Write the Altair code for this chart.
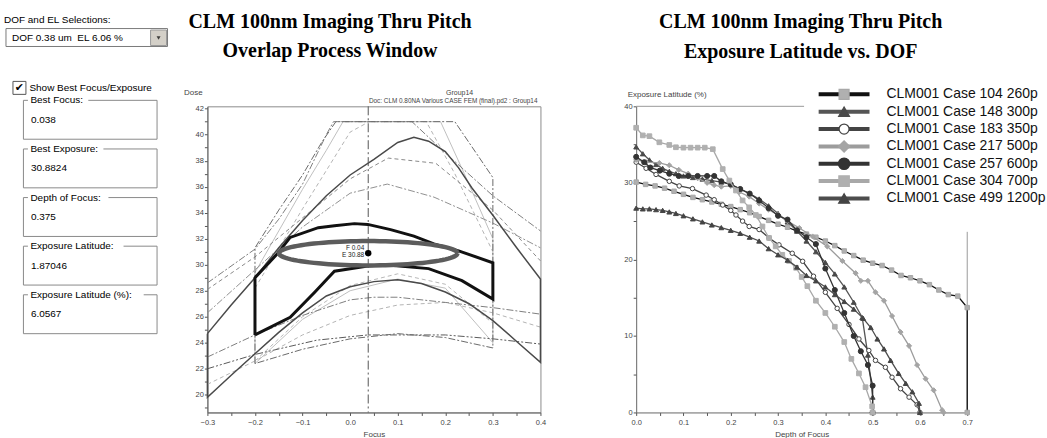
import altair as alt
import pandas as pd

# ======================= DATA =======================
# ---- left control panel ----
SEL_TITLE = "DOF and EL Selections:"
SEL_TEXT = "DOF 0.38 um\u00a0\u00a0EL 6.06 %"
CHECK_TEXT = "Show Best Focus/Exposure"
BOX_LABELS = ["Best Focus:", "Best Exposure:", "Depth of Focus:",
              "Exposure Latitude:", "Exposure Latitude (%):"]
BOX_VALUES = ["0.038", "30.8824", "0.375", "1.87046", "6.0567"]

# ---- middle chart: overlap process window ----
MID_TITLE = ["CLM 100nm Imaging Thru Pitch", "Overlap Process Window"]
MID_GROUP = "Group14"
MID_DOC = "Doc: CLM 0.80NA Various CASE FEM (final).pd2 : Group14"
BEST_FOCUS = 0.038
BEST_EXPOSURE = 30.8824
DEPTH_OF_FOCUS = 0.375
EXPOSURE_LATITUDE = 1.87046
POINT_LABELS = ["F 0.04", "E 30.88"]
FOCUS_TICKS = [-0.3, -0.25, -0.2, -0.15, -0.1, -0.05, 0.0, 0.05, 0.1,
               0.15, 0.2, 0.25, 0.3, 0.35, 0.4]
DOSE_TICKS = [19, 20, 21, 22, 23, 24, 25, 26, 27, 28, 29, 30, 31, 32, 33,
              34, 35, 36, 37, 38, 39, 40, 41, 42]

# closed dark contour (upper curve left->right, lower curve right->left)
DARK_FOCUS = [-0.3, -0.25, -0.2, -0.15, -0.1, -0.05, 0.0, 0.05, 0.1, 0.134, 0.165,
              0.2, 0.228, 0.256, 0.3, 0.35, 0.4,
              0.4, 0.35, 0.3, 0.25, 0.2, 0.15, 0.1, 0.05, 0.0, -0.05, -0.1,
              -0.15, -0.2, -0.25, -0.3, -0.3]
DARK_DOSE = [24.7, 26.9, 29.0, 31.3, 33.4, 35.3, 36.9, 38.1, 39.4, 39.8, 39.5,
             38.7, 37.45, 35.9, 33.8, 31.3, 28.9,
             22.5, 24.1, 25.7, 27.0, 27.9, 28.55, 28.85, 28.7, 28.3, 27.6, 26.3,
             24.8, 23.15, 21.5, 19.8, 24.7]

# overlap window polygon (thick black)
WIN_FOCUS = [-0.2, -0.2, -0.154, -0.126, -0.067, -0.033, 0.009, 0.037, 0.085, 0.134,
             0.176, 0.228, 0.3, 0.3, 0.235, 0.165, 0.085, 0.037, -0.033, -0.074,
             -0.126, -0.2]
WIN_DOSE = [24.6, 29.0, 30.8, 32.1, 32.85, 33.0, 33.16, 33.1, 32.7, 32.2,
            31.6, 31.07, 30.15, 27.36, 28.77, 29.7, 29.95, 29.9, 29.5, 27.9,
            25.95, 24.6]

# thin individual-feature curves
T1_FOCUS = [-0.2, -0.2, -0.15, -0.1, -0.06, -0.03, 0.22, 0.3, 0.3, 0.2, 0.1, 0.0, -0.1, -0.2]
T1_DOSE = [22.4, 31.3, 34.2, 36.9, 39.4, 41.0, 41.0, 36.7, 23.6, 24.4, 24.7, 24.3, 23.5, 22.4]
U1_FOCUS = [-0.3, -0.2, -0.1, 0.0, 0.08, 0.18, 0.3, 0.4]
U1_DOSE = [28.1, 30.6, 33.6, 36.6, 38.2, 37.8, 34.2, 30.3]
U2_FOCUS = [-0.3, -0.2, -0.1, 0.0, 0.078, 0.176, 0.3, 0.4]
U2_DOSE = [26.3, 29.6, 32.9, 35.5, 36.2, 35.2, 33.2, 31.3]
U3_FOCUS = [-0.3, -0.2, -0.15, -0.1, -0.05, -0.035, 0.13, 0.2, 0.3, 0.4]
U3_DOSE = [28.6, 31.2, 33.5, 36.2, 40.0, 41.0, 41.0, 38.6, 35.3, 32.6]
S1_FOCUS = [-0.2, -0.1, -0.05, -0.015, 0.19, 0.24, 0.3, 0.3, 0.2, 0.1, 0.0, -0.1, -0.2, -0.2]
S1_DOSE = [29.4, 35.8, 38.8, 41.0, 41.0, 37.0, 32.0, 24.0, 28.2, 28.9, 28.0, 25.8, 22.4, 29.4]
S2_FOCUS = [-0.2, -0.1, 0.0, 0.04, 0.16, 0.22, 0.3]
S2_DOSE = [28.2, 34.3, 40.2, 41.0, 41.0, 37.0, 31.0]
S2L_FOCUS = [-0.2, -0.1, 0.0, 0.1, 0.2, 0.3]
S2L_DOSE = [22.6, 26.0, 28.4, 29.3, 28.5, 25.5]
L1_FOCUS = [-0.3, -0.2, -0.07, 0.037, 0.2, 0.3, 0.4]
L1_DOSE = [22.0, 23.1, 24.2, 24.6, 24.6, 24.3, 23.9]
L2_FOCUS = [-0.3, -0.2, -0.1, 0.0, 0.05, 0.1, 0.2, 0.3, 0.4]
L2_DOSE = [22.9, 24.6, 26.1, 27.3, 27.5, 27.5, 27.1, 26.7, 26.2]
L3_FOCUS = [-0.3, -0.2, -0.1, 0.0, 0.1, 0.2, 0.3, 0.4]
L3_DOSE = [20.8, 22.6, 24.6, 26.1, 26.9, 27.1, 26.3, 25.2]

# ---- right chart: exposure latitude vs DOF ----
RIGHT_TITLE = ["CLM 100nm Imaging Thru Pitch", "Exposure Latitude vs. DOF"]
SERIES_NAMES = ["CLM001 Case 104 260p", "CLM001 Case 148 300p", "CLM001 Case 183 350p",
                "CLM001 Case 217 500p", "CLM001 Case 257 600p", "CLM001 Case 304 700p",
                "CLM001 Case 499 1200p"]
DOF_TICKS = [0.0, 0.05, 0.1, 0.15, 0.2, 0.25, 0.3, 0.35, 0.4, 0.45, 0.5, 0.55, 0.6, 0.65, 0.7]
EL_TICKS = [0, 5, 10, 15, 20, 25, 30, 35, 40]

DOF_260 = [0.0, 0.02, 0.04, 0.06, 0.08, 0.10, 0.12, 0.14, 0.16, 0.18, 0.20, 0.22, 0.24,
           0.26, 0.28, 0.30, 0.32, 0.34, 0.36, 0.38, 0.40, 0.42, 0.44, 0.46, 0.48, 0.50,
           0.52, 0.54, 0.56, 0.58, 0.60, 0.62, 0.64, 0.66, 0.68, 0.70, 0.70]
EL_260 = [30.1, 29.8, 29.6, 29.3, 28.9, 28.5, 28.1, 27.8, 27.5, 27.2, 26.9, 26.5, 26.1,
          25.6, 25.1, 24.6, 24.2, 23.7, 23.3, 22.9, 22.4, 21.8, 21.1, 20.5, 19.9, 19.5,
          19.2, 18.6, 17.9, 17.6, 17.2, 16.7, 16.0, 15.4, 15.2, 13.7, 0.0]
DOF_300 = [0.0, 0.014, 0.028, 0.042, 0.056, 0.07, 0.084, 0.1, 0.12, 0.14, 0.16, 0.18, 0.2,
           0.22, 0.24, 0.26, 0.28, 0.30, 0.32, 0.34, 0.36, 0.38, 0.40, 0.42, 0.44, 0.46,
           0.478, 0.49, 0.5, 0.5]
EL_300 = [34.7, 33.8, 33.0, 32.4, 31.9, 31.5, 31.2, 30.9, 30.7, 30.5, 30.3, 30.1, 29.8,
          29.2, 28.6, 27.9, 27.0, 26.0, 24.9, 23.7, 22.4, 21.0, 19.6, 18.1, 16.4, 14.4,
          12.4, 7.5, 2.0, 0.0]
DOF_350 = [0.0, 0.021, 0.042, 0.07, 0.091, 0.119, 0.148, 0.165, 0.183, 0.2, 0.211, 0.225,
           0.239, 0.26, 0.281, 0.302, 0.33, 0.352, 0.375, 0.4, 0.425, 0.45, 0.471, 0.492,
           0.506, 0.527, 0.541, 0.559, 0.577, 0.594, 0.6]
EL_350 = [32.7, 31.9, 31.1, 30.2, 29.6, 29.25, 28.4, 27.8, 27.1, 26.4, 25.8, 25.0,
          24.3, 23.9, 22.8, 21.9, 20.8, 19.75, 17.8, 15.7, 13.6, 11.5, 9.6, 8.1,
          6.8, 5.9, 4.6, 3.1, 2.0, 1.0, 0.0]
DOF_500 = [0.0, 0.021, 0.049, 0.07, 0.09, 0.11, 0.13, 0.15, 0.165, 0.18, 0.2, 0.218, 0.239,
           0.26, 0.28, 0.3, 0.32, 0.345, 0.373, 0.404, 0.436, 0.464, 0.475, 0.49, 0.506,
           0.524, 0.541, 0.559, 0.577, 0.594, 0.612, 0.629, 0.647, 0.65]
EL_500 = [33.0, 32.7, 32.6, 32.3, 31.7, 31.2, 30.6, 30.0, 29.7, 29.5, 29.6, 28.8, 28.2,
          27.3, 26.5, 25.8, 25.0, 24.1, 23.0, 21.7, 19.8, 18.2, 17.2, 17.2, 15.7,
          14.6, 12.6, 10.5, 8.7, 6.2, 4.4, 2.9, 0.3, 0.0]
DOF_600 = [0.0, 0.017, 0.03, 0.05, 0.07, 0.09, 0.11, 0.13, 0.15, 0.165, 0.18, 0.2, 0.22,
           0.24, 0.26, 0.28, 0.3, 0.32, 0.34, 0.36, 0.38, 0.4, 0.42, 0.44, 0.46, 0.475,
           0.49, 0.5, 0.5]
EL_600 = [33.4, 32.7, 32.0, 31.6, 31.2, 30.9, 30.9, 30.9, 30.9, 30.9, 30.2, 29.8, 29.2,
          28.6, 27.7, 26.7, 25.7, 25.2, 23.8, 22.9, 22.0, 18.8, 16.0, 13.0, 10.0, 8.0,
          6.2, 3.5, 0.0]
DOF_700 = [0.0, 0.014, 0.028, 0.049, 0.07, 0.084, 0.1, 0.115, 0.13, 0.145, 0.162, 0.183,
           0.197, 0.211, 0.225, 0.239, 0.253, 0.267, 0.281, 0.295, 0.309, 0.323, 0.338,
           0.35, 0.362, 0.38, 0.4, 0.42, 0.44, 0.455, 0.471, 0.485, 0.499, 0.5]
EL_700 = [37.2, 36.2, 36.1, 35.3, 34.95, 34.65, 34.6, 34.6, 34.6, 34.6, 34.4, 31.8,
          30.3, 29.0, 27.7, 26.8, 25.8, 24.3, 22.8, 21.7, 20.6, 19.8, 18.9,
          17.7, 16.5, 14.6, 13.0, 11.2, 9.2, 7.0, 5.1, 3.3, 0.8, 0.0]
DOF_1200 = [0.0, 0.014, 0.028, 0.042, 0.056, 0.07, 0.084, 0.1, 0.12, 0.14, 0.16, 0.18, 0.2,
            0.22, 0.24, 0.26, 0.28, 0.30, 0.32, 0.34, 0.36, 0.38, 0.40, 0.42, 0.44, 0.46,
            0.48, 0.496, 0.51, 0.524, 0.538, 0.555, 0.57, 0.584, 0.598, 0.6]
EL_1200 = [26.7, 26.6, 26.6, 26.5, 26.4, 26.2, 26.0, 25.7, 25.3, 24.9, 24.5, 24.15, 23.8,
           23.4, 22.9, 22.4, 21.4, 20.6, 19.9, 19.0, 17.9, 17.2, 16.4, 15.4, 14.5, 13.5,
           12.3, 11.1, 9.6, 8.3, 6.8, 5.1, 3.8, 2.7, 1.2, 0.0]

# ======================= STYLE / LAYOUT =======================
FONT = "Liberation Sans"
SERIF = "Liberation Serif"
LEFT_W, MID_W, RIGHT_W, PLOT_H = 111, 334, 332, 307
ORIGIN_Y = 105
SPACING = 96

DASHDOT = [7, 2, 2, 2]
DASH = [4, 3]
DASHDOTDOT = [7, 2, 2, 2, 2, 2]


def one(**cols):
    return pd.DataFrame({k: [v] for k, v in cols.items()})


# ---------------- left panel ----------------
def ptext(s, x, y, size=10, align="left", font=FONT, color="#000"):
    return alt.Chart(one(t=s)).mark_text(
        align=align, baseline="middle", fontSize=size, font=font, color=color
    ).encode(x=alt.value(x), y=alt.value(y - ORIGIN_Y), text="t:N")


def prect(x1, y1, x2, y2, fill, stroke="transparent", sw=1):
    return alt.Chart(one(a=0)).mark_rect(fill=fill, stroke=stroke, strokeWidth=sw).encode(
        x=alt.value(x1), x2=alt.value(x2),
        y=alt.value(y1 - ORIGIN_Y), y2=alt.value(y2 - ORIGIN_Y))


left_layers = [
    prect(0, 0, 1047, 438, "white"),
    ptext(SEL_TITLE, 3, 18),
    prect(5, 27, 167, 45, "white", "#7a7a7a"),
    ptext(SEL_TEXT, 11, 36.5),
    prect(150, 28.5, 166, 44, "#d4d0c8", "#9a9a9a"),
    alt.Chart(one(a=0)).mark_point(shape="triangle-down", filled=True, color="#000", size=16).encode(
        x=alt.value(158), y=alt.value(36.5 - ORIGIN_Y)),
    prect(12, 80, 25, 93, "white", "#555"),
    ptext("\u2714", 18.5, 86.5, size=11, align="center", font="DejaVu Sans"),
    ptext(CHECK_TEXT, 28.5, 86.5),
]
for i, (lab, val) in enumerate(zip(BOX_LABELS, BOX_VALUES)):
    top = 99 + 48.75 * i
    left_layers.append(prect(22.5, top, 156.5, top + 39, "transparent", "#8a8a8a"))
    left_layers.append(prect(27, top - 5, 30 + len(lab) * 5.05 + 2, top + 5, "white"))
    left_layers.append(ptext(lab, 29.5, top))
    left_layers.append(ptext(val, 30, top + 19.5))

left = alt.layer(*left_layers).properties(width=LEFT_W, height=PLOT_H)

# ---------------- middle chart ----------------
X_MID = alt.Scale(domain=[-0.3, 0.4], nice=False, zero=False)
Y_MID = alt.Scale(domain=[18.64, 42.18], nice=False, zero=False)
AX_MID_X = alt.Axis(values=FOCUS_TICKS, grid=False, tickSize=3, tickColor="#555",
                    domainColor="#666", labelColor="#444", labelFont=FONT, labelFontSize=7.5,
                    labelPadding=3, labelFlush=False, labelOverlap=False,
                    labelExpr="abs(datum.value*10 - round(datum.value*10)) < 0.01 ? format(datum.value, '.1f') : ''",
                    title="Focus", titleFont=FONT, titleFontSize=8, titleFontWeight="normal",
                    titleColor="#444", titlePadding=5)
AX_MID_Y = alt.Axis(values=DOSE_TICKS, grid=False, tickSize=3, tickColor="#555",
                    domainColor="#666", labelColor="#444", labelFont=FONT, labelFontSize=7.5,
                    labelPadding=1, labelFlush=False, labelOverlap=False,
                    labelExpr="datum.value % 2 == 0 ? datum.label : ''",
                    title="Dose", titleFont=FONT, titleFontSize=8, titleFontWeight="normal",
                    titleColor="#444", titleAngle=0, titleAlign="left", titleBaseline="middle",
                    titleX=-24, titleY=-14)


def mx(field="focus"):
    return alt.X(f"{field}:Q", scale=X_MID, axis=AX_MID_X)


def my(field="dose"):
    return alt.Y(f"{field}:Q", scale=Y_MID, axis=AX_MID_Y)


def curve(fx, dy, color, width, dash=None):
    df = pd.DataFrame({"focus": fx, "dose": dy, "i": list(range(len(fx)))})
    kw = dict(color=color, strokeWidth=width, clip=False)
    if dash is not None:
        kw["strokeDash"] = dash
    return alt.Chart(df).mark_line(**kw).encode(x=mx(), y=my(), order="i:Q")


mid_layers = [
    curve(L3_FOCUS, L3_DOSE, "#b4b4b4", 1, DASH),
    curve(S2L_FOCUS, S2L_DOSE, "#b8b8b8", 1, DASH),
    curve(S1_FOCUS, S1_DOSE, "#c0c0c0", 1),
    curve(S2_FOCUS, S2_DOSE, "#b4b4b4", 1, DASH),
    curve(U2_FOCUS, U2_DOSE, "#919191", 1, DASHDOT),
    curve(U1_FOCUS, U1_DOSE, "#8a8a8a", 1, DASH),
    curve(U3_FOCUS, U3_DOSE, "#7e7e7e", 1, DASHDOT),
    curve(L2_FOCUS, L2_DOSE, "#7e7e7e", 1, DASHDOT),
    curve(L1_FOCUS, L1_DOSE, "#5a5a5a", 1, DASHDOTDOT),
    curve(T1_FOCUS, T1_DOSE, "#6a6a6a", 1, DASHDOT),
    curve(DARK_FOCUS, DARK_DOSE, "#4a4a4a", 1.5),
    alt.Chart(one(focus=BEST_FOCUS)).mark_rule(color="#555", strokeWidth=1, strokeDash=[9, 3, 2, 3]).encode(x=mx()),
    curve(WIN_FOCUS, WIN_DOSE, "#111111", 3),
    alt.Chart(alt.sequence(0, 97, as_="k")).transform_calculate(
        focus=f"{BEST_FOCUS} + {DEPTH_OF_FOCUS / 2} * cos(datum.k * PI / 48)",
        dose=f"{BEST_EXPOSURE} + {EXPOSURE_LATITUDE / 2} * sin(datum.k * PI / 48)",
    ).mark_line(color="#5c5c5c", strokeWidth=4.5).encode(x=mx(), y=my(), order="k:Q"),
    alt.Chart(one(focus=BEST_FOCUS, dose=BEST_EXPOSURE)).mark_point(
        filled=True, color="#000", size=42, opacity=1).encode(x=mx(), y=my()),
    alt.Chart(one(focus=BEST_FOCUS, dose=BEST_EXPOSURE, t=POINT_LABELS[0])).mark_text(
        align="right", baseline="middle", fontSize=6.5, font=FONT, color="#222", dx=-4, dy=-5.5
    ).encode(x=mx(), y=my(), text="t:N"),
    alt.Chart(one(focus=BEST_FOCUS, dose=BEST_EXPOSURE, t=POINT_LABELS[1])).mark_text(
        align="right", baseline="middle", fontSize=6.5, font=FONT, color="#222", dx=-4, dy=1.5
    ).encode(x=mx(), y=my(), text="t:N"),
    alt.Chart(one(t=MID_GROUP)).mark_text(align="center", baseline="middle", fontSize=7, font=FONT,
                                          color="#444").encode(x=alt.value(253), y=alt.value(-13), text="t:N"),
    alt.Chart(one(t=MID_DOC)).mark_text(align="right", baseline="middle", fontSize=6.4, font=FONT,
                                        color="#444").encode(x=alt.value(331), y=alt.value(-5.5), text="t:N"),
]

mid = alt.layer(*mid_layers).properties(
    width=MID_W, height=PLOT_H,
    view=alt.ViewBackground(stroke="#8c8c8c", strokeWidth=1),
    title=alt.TitleParams(MID_TITLE, font=SERIF, fontSize=20, fontWeight="bold", color="#000",
                          anchor="middle", frame="group", dx=-44, offset=27, lineHeight=30),
)

# ---------------- right chart ----------------
X_R = alt.Scale(domain=[0, 0.7], nice=False, zero=False)
Y_R = alt.Scale(domain=[0, 40], nice=False, zero=False)
AX_R_X = alt.Axis(values=DOF_TICKS, grid=False, tickSize=3, tickColor="#555",
                  domainColor="#666", labelColor="#444", labelFont=FONT, labelFontSize=7.5,
                  labelPadding=3, labelFlush=False, labelOverlap=False,
                  labelExpr="abs(datum.value*10 - round(datum.value*10)) < 0.01 ? format(datum.value, '.1f') : ''",
                  title="Depth of Focus", titleFont=FONT, titleFontSize=8, titleFontWeight="normal",
                  titleColor="#444", titlePadding=5)
AX_R_Y = alt.Axis(values=EL_TICKS, grid=False, tickSize=3, tickColor="#555",
                  domainColor="#666", labelColor="#444", labelFont=FONT, labelFontSize=7.5,
                  labelPadding=1, labelFlush=False, labelOverlap=False,
                  labelExpr="datum.value % 10 == 0 ? datum.label : ''",
                  title="Exposure Latitude (%)", titleFont=FONT, titleFontSize=8,
                  titleFontWeight="normal", titleColor="#444", titleAngle=0, titleAlign="left",
                  titleBaseline="middle", titleX=-9, titleY=-12)


def rx(field="dof"):
    return alt.X(f"{field}:Q", scale=X_R, axis=AX_R_X)


def ry(field="el"):
    return alt.Y(f"{field}:Q", scale=Y_R, axis=AX_R_Y)


SERIES = [
    (DOF_260, EL_260, "#111111", "square", "#b0b0b0", "#a8a8a8", 20),
    (DOF_300, EL_300, "#555555", "triangle-up", "#4a4a4a", "#4a4a4a", 24),
    (DOF_350, EL_350, "#444444", "circle", "white", "#444444", 20),
    (DOF_500, EL_500, "#9c9c9c", "diamond", "#a4a4a4", "#a4a4a4", 26),
    (DOF_600, EL_600, "#333333", "circle", "#333333", "#333333", 26),
    (DOF_700, EL_700, "#a8a8a8", "square", "#b0b0b0", "#b0b0b0", 22),
    (DOF_1200, EL_1200, "#4d4d4d", "triangle-up", "#444444", "#444444", 24),
]

right_layers = [
    alt.Chart(one(a=0)).mark_rule(color="#9a9a9a", strokeWidth=1).encode(
        x=alt.X(datum=0, scale=X_R, axis=AX_R_X),
        x2=alt.X2(datum=0.355), y=alt.Y(datum=40, scale=Y_R, axis=AX_R_Y)),
    alt.Chart(one(a=0)).mark_rule(color="#9a9a9a", strokeWidth=1).encode(
        x=alt.X(datum=0.7, scale=X_R, axis=AX_R_X),
        y=alt.Y(datum=0, scale=Y_R, axis=AX_R_Y), y2=alt.Y2(datum=23.6)),
]
for dof, el, lc, shape, fill, stroke, size in SERIES:
    df = pd.DataFrame({"dof": dof, "el": el, "i": list(range(len(dof)))})
    right_layers.append(alt.Chart(df).mark_line(color=lc, strokeWidth=1.3).encode(
        x=rx(), y=ry(), order="i:Q"))
    right_layers.append(alt.Chart(df).mark_point(
        shape=shape, filled=True, fill=fill, stroke=stroke, strokeWidth=1, size=size, opacity=1
    ).encode(x=rx(), y=ry()))

# legend (custom, drawn at the top right)
for i, (name, (dof, el, lc, shape, fill, stroke, size)) in enumerate(zip(SERIES_NAMES, SERIES)):
    ly = -12 + 17.4 * i
    right_layers.append(alt.Chart(one(a=0)).mark_rule(color=lc, strokeWidth=4).encode(
        x=alt.value(183), x2=alt.value(234), y=alt.value(ly)))
    right_layers.append(alt.Chart(one(a=0)).mark_point(
        shape=shape, filled=True, fill=fill, stroke=stroke, strokeWidth=1.2,
        size=size * 5, opacity=1).encode(x=alt.value(208.5), y=alt.value(ly)))
    right_layers.append(alt.Chart(one(t=name)).mark_text(
        align="left", baseline="middle", fontSize=14, font=FONT, color="#111"
    ).encode(x=alt.value(251), y=alt.value(ly), text="t:N"))

right = alt.layer(*right_layers).properties(
    width=RIGHT_W, height=PLOT_H,
    title=alt.TitleParams(RIGHT_TITLE, font=SERIF, fontSize=20, fontWeight="bold", color="#000",
                          anchor="middle", frame="group", dx=-1, offset=25, lineHeight=30),
)

chart = alt.hconcat(left, mid, right, spacing=SPACING, bounds="flush").properties(
    padding=0, background="white"
).configure_view(stroke="transparent")

chart.save("out.html", embed_options={"renderer": "svg", "actions": False})
